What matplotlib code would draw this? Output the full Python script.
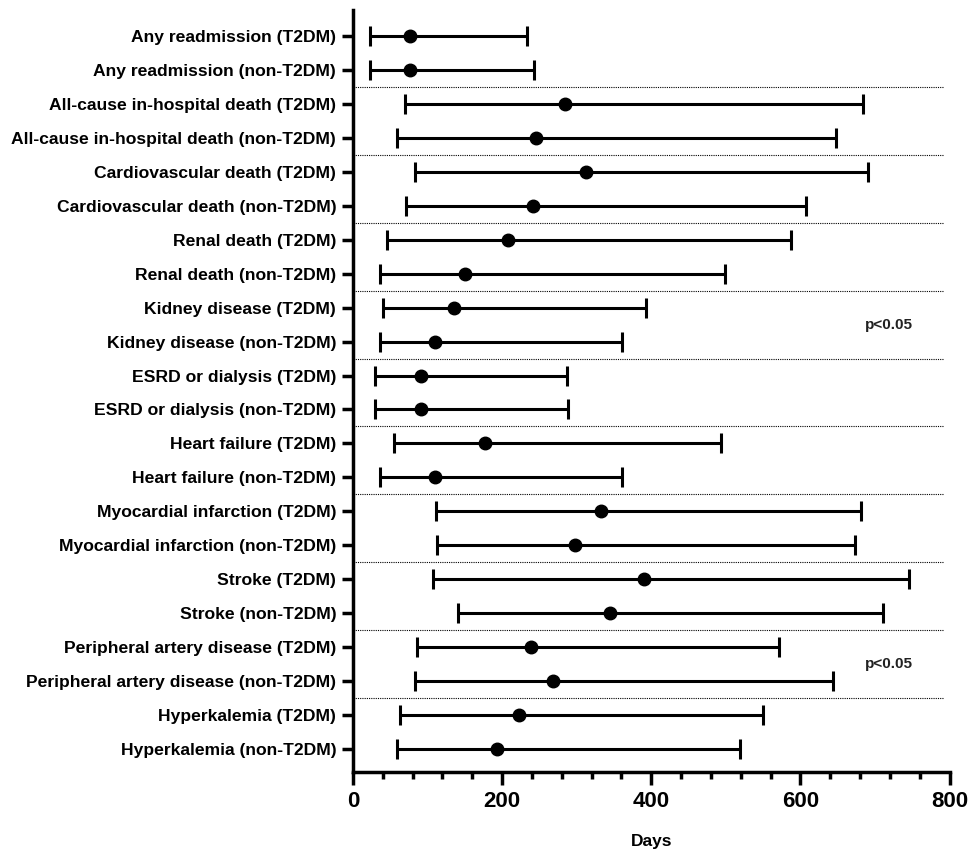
import numpy as np
import matplotlib.pyplot as plt

plt.rcParams['font.family'] = ['Liberation Sans', 'DejaVu Sans']

labels = [
    "Any readmission (T2DM)", "Any readmission (non-T2DM)",
    "All-cause in-hospital death (T2DM)", "All-cause in-hospital death (non-T2DM)",
    "Cardiovascular death (T2DM)", "Cardiovascular death (non-T2DM)",
    "Renal death (T2DM)", "Renal death (non-T2DM)",
    "Kidney disease (T2DM)", "Kidney disease (non-T2DM)",
    "ESRD or dialysis (T2DM)", "ESRD or dialysis (non-T2DM)",
    "Heart failure (T2DM)", "Heart failure (non-T2DM)",
    "Myocardial infarction (T2DM)", "Myocardial infarction (non-T2DM)",
    "Stroke (T2DM)", "Stroke (non-T2DM)",
    "Peripheral artery disease (T2DM)", "Peripheral artery disease (non-T2DM)",
    "Hyperkalemia (T2DM)", "Hyperkalemia (non-T2DM)",
]
median = [76, 76, 285, 245, 312, 241, 208, 151, 135, 110, 92, 92,
          177, 110, 333, 298, 390, 345, 239, 268, 223, 193]
lower = [23, 23, 70, 59, 83, 71, 46, 37, 40, 36, 30, 30,
         55, 36, 112, 113, 108, 141, 86, 83, 63, 59]
upper = [234, 243, 684, 648, 691, 607, 587, 499, 393, 361, 287, 289,
         494, 361, 681, 673, 745, 710, 571, 643, 550, 519]
sig_rows = [9.5, 19.5]  # where "p<0.05" is written

y = np.arange(1, len(labels) + 1)
med = np.array(median)
err = [med - np.array(lower), np.array(upper) - med]

fig, ax = plt.subplots(figsize=(9.72, 8.5), dpi=100)
fig.subplots_adjust(left=0.363, right=0.977, top=0.988, bottom=0.092)

ax.errorbar(med, y, xerr=err, fmt='o', color='black', ms=9, elinewidth=2.2,
            capsize=7, capthick=2.2)

# dotted separators between groups
for b in np.arange(2.5, len(labels), 2):
    ax.axhline(b, xmin=0, xmax=0.99, color='black', ls=(0, (1, 1)), lw=0.8)

for r in sig_rows:
    ax.text(719, r, "p<0.05", ha='center', va='center', fontsize=11, fontweight='bold',
            color='#222222')

ax.set_ylim(22.68, 0.23)
ax.set_xlim(0, 800)
ax.set_yticks(y)
ax.set_yticklabels(labels, fontsize=12.6, fontweight='bold')
ax.set_xticks([0, 200, 400, 600, 800])
ax.set_xticks(np.arange(0, 801, 40), minor=True)
ax.tick_params(axis='x', which='major', width=2.5, length=9, labelsize=16, pad=5)
ax.tick_params(axis='x', which='minor', width=2.5, length=5)
ax.tick_params(axis='y', width=2.5, length=8, pad=4)
for lab in ax.get_xticklabels():
    lab.set_fontweight('bold')

ax.spines['top'].set_visible(False)
ax.spines['right'].set_visible(False)
ax.spines['left'].set_linewidth(2.5)
ax.spines['bottom'].set_linewidth(2.5)

ax.set_xlabel("Days", fontsize=12.5, fontweight='bold', labelpad=16)

fig.savefig("out.png")
